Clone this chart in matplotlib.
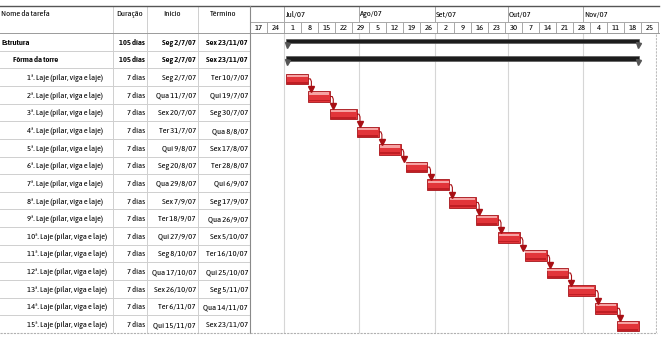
import matplotlib
matplotlib.use("Agg")
import matplotlib.pyplot as plt
import matplotlib.dates as mdates
import pandas as pd

plt.rcParams['font.family'] = ['Asap Condensed', 'Archivo Narrow',
                               'DejaVu Sans']

# ---------------- data ----------------
task_names = [
    "Estrutura", "Fôrma da torre",
    "1ª. Laje (pilar, viga e laje)", "2ª. Laje (pilar, viga e laje)",
    "3ª. Laje (pilar, viga e laje)", "4ª. Laje (pilar, viga e laje)",
    "5ª. Laje (pilar, viga e laje)", "6ª. Laje (pilar, viga e laje)",
    "7ª. Laje (pilar, viga e laje)", "8ª. Laje (pilar, viga e laje)",
    "9ª. Laje (pilar, viga e laje)", "10ª. Laje (pilar, viga e laje)",
    "11ª. Laje (pilar, viga e laje)", "12ª. Laje (pilar, viga e laje)",
    "13ª. Laje (pilar, viga e laje)", "14ª. Laje (pilar, viga e laje)",
    "15ª. Laje (pilar, viga e laje)",
]
outline_level = [0, 1, 2, 2, 2, 2, 2, 2, 2, 2, 2, 2, 2, 2, 2, 2, 2]
is_summary = [True, True] + [False] * 15
durations = ["105 dias", "105 dias"] + ["7 dias"] * 15
start_labels = [
    "Seg 2/7/07", "Seg 2/7/07", "Seg 2/7/07", "Qua 11/7/07", "Sex 20/7/07",
    "Ter 31/7/07", "Qui 9/8/07", "Seg 20/8/07", "Qua 29/8/07", "Sex 7/9/07",
    "Ter 18/9/07", "Qui 27/9/07", "Seg 8/10/07", "Qua 17/10/07",
    "Sex 26/10/07", "Ter 6/11/07", "Qui 15/11/07",
]
end_labels = [
    "Sex 23/11/07", "Sex 23/11/07", "Ter 10/7/07", "Qui 19/7/07", "Seg 30/7/07",
    "Qua 8/8/07", "Sex 17/8/07", "Ter 28/8/07", "Qui 6/9/07", "Seg 17/9/07",
    "Qua 26/9/07", "Sex 5/10/07", "Ter 16/10/07", "Qui 25/10/07",
    "Seg 5/11/07", "Qua 14/11/07", "Sex 23/11/07",
]
start_dates = pd.to_datetime([
    "2007-07-02", "2007-07-02", "2007-07-02", "2007-07-11", "2007-07-20",
    "2007-07-31", "2007-08-09", "2007-08-20", "2007-08-29", "2007-09-07",
    "2007-09-18", "2007-09-27", "2007-10-08", "2007-10-17", "2007-10-26",
    "2007-11-06", "2007-11-15",
])
end_dates = pd.to_datetime([
    "2007-11-23", "2007-11-23", "2007-07-10", "2007-07-19", "2007-07-30",
    "2007-08-08", "2007-08-17", "2007-08-28", "2007-09-06", "2007-09-17",
    "2007-09-26", "2007-10-05", "2007-10-16", "2007-10-25", "2007-11-05",
    "2007-11-14", "2007-11-23",
])
month_labels = ["Jul/07", "Ago/07", "Set/07", "Out/07", "Nov/07"]
month_starts = pd.to_datetime(["2007-07-01", "2007-08-01", "2007-09-01",
                               "2007-10-01", "2007-11-01"])
timeline_start = pd.Timestamp("2007-06-17")
timeline_end = pd.Timestamp("2007-12-02")
col_headers = ["Nome da tarefa", "Duração", "Início", "Término"]

# ---------------- layout ----------------
W, H = 662, 338
fig = plt.figure(figsize=(W / 100, H / 100), dpi=100)
fig.patch.set_facecolor("white")


def px_rect(l, t, r, b):
    return [l / W, 1 - b / H, (r - l) / W, (b - t) / H]


TOP, HDR_MID, HDR_BOT, BODY_BOT = 6, 21.5, 33, 333
TABLE_R, GANTT_R = 250, 657
col_sep = [113, 147, 198]
FS = 6.1
n = len(task_names)
rows = list(range(n))

# table body
axt = fig.add_axes(px_rect(0, HDR_BOT, TABLE_R, BODY_BOT))
axt.set_xlim(0, TABLE_R)
axt.set_ylim(n - 0.5, -0.5)
axt.axis("off")
for r in rows:
    axt.axhline(r + 0.5, color="#cfcfcf", lw=0.7)
for x in col_sep:
    axt.axvline(x, color="#cfcfcf", lw=0.7)
name_x = {0: 1, 1: 13, 2: 27}
for r, name, lvl, summ, dur, s, e in zip(rows, task_names, outline_level,
                                          is_summary, durations,
                                          start_labels, end_labels):
    fw = "semibold" if summ else "normal"
    axt.text(name_x[lvl], r + 0.05, name, fontsize=FS, fontweight=fw,
             va="center", ha="left")
    axt.text(145, r + 0.05, dur, fontsize=FS, fontweight=fw,
             va="center", ha="right")
    axt.text(196, r + 0.05, s, fontsize=FS, fontweight=fw,
             va="center", ha="right")
    axt.text(248, r + 0.05, e, fontsize=FS, fontweight=fw,
             va="center", ha="right")

# table header
axth = fig.add_axes(px_rect(0, TOP, TABLE_R, HDR_BOT))
axth.set_xlim(0, TABLE_R)
axth.set_ylim(HDR_BOT, TOP)
axth.axis("off")
axth.text(1, 14.5, col_headers[0], fontsize=FS, va="center", ha="left")
axth.text(130, 14.5, col_headers[1], fontsize=FS, va="center", ha="center")
axth.text(172, 14.5, col_headers[2], fontsize=FS, va="center", ha="center")
axth.text(223, 14.5, col_headers[3], fontsize=FS, va="center", ha="center")
for x in col_sep:
    axth.axvline(x, color="#cfcfcf", lw=0.7)

# gantt body
axg = fig.add_axes(px_rect(TABLE_R, HDR_BOT, GANTT_R, BODY_BOT))
x0 = mdates.date2num(timeline_start)
x1 = x0 + (GANTT_R - TABLE_R) / 2.431
axg.set_xlim(x0, x1)
axg.set_ylim(n - 0.5, -0.5)
axg.axis("off")
for m in month_starts:
    axg.axvline(mdates.date2num(m), color="#d6d6d6", lw=0.8)
axg.axvline(x1 - 0.6, color="#bdbdbd", lw=0.8, ls=(0, (2, 1)))

sx = mdates.date2num(start_dates)
ex = mdates.date2num(end_dates) + 1.0
for r, a, b, summ in zip(rows, sx, ex, is_summary):
    if summ:
        axg.barh(r - 0.05, b - a, left=a, height=0.26, color="#1c1c1c",
                 edgecolor="#5a5a5a", lw=0.5, zorder=3)
        axg.plot([a + 0.3, b - 0.3], [r + 0.17, r + 0.17], ls="none",
                 marker="v", ms=3.6, color="#555555", zorder=4)
    else:
        yc = r + 0.1
        axg.barh(yc, b - a, left=a, height=0.6, color="#e2353a",
                 edgecolor="#a5161b", lw=0.6, zorder=3)
        axg.barh(yc - 0.17, b - a - 0.6, left=a + 0.3, height=0.12,
                 color="#f6a3a3", lw=0, zorder=4)
        axg.barh(yc + 0.22, b - a - 0.4, left=a + 0.2, height=0.1,
                 color="#c01e24", lw=0, zorder=4)

# finish-to-start links
task_rows = rows[2:]
for i in range(len(task_rows) - 1):
    r0, r1 = task_rows[i], task_rows[i + 1]
    xe = ex[r0]
    xa = xe + 1.25
    y0 = r0 + 0.1
    y1 = r1 + 0.1 - 0.3
    axg.plot([xe, xa - 0.4, xa, xa], [y0, y0, y0 + 0.15, y1 - 0.22],
             color="#a80f14", lw=0.8, zorder=5, solid_capstyle="butt")
    axg.plot([xa], [y1 - 0.14], marker="v", ms=4, color="#a80f14",
             zorder=6, ls="none")

# timescale header
axh = fig.add_axes(px_rect(TABLE_R, TOP, GANTT_R + 2, HDR_BOT))
axh.set_xlim(x0, x0 + (GANTT_R + 2 - TABLE_R) / 2.431)
axh.set_ylim(HDR_BOT, TOP)
axh.axis("off")
axh.axhline(HDR_MID, color="#a8a8a8", lw=0.7)
for m, lab in zip(month_starts, month_labels):
    mx = mdates.date2num(m)
    axh.plot([mx, mx], [TOP, HDR_MID], color="#a8a8a8", lw=0.7)
    axh.text(mx + 0.4, 14.5, lab, fontsize=FS, va="center", ha="left")
weeks = pd.date_range(timeline_start, timeline_end, freq="7D")
for w in weeks:
    wx = mdates.date2num(w)
    axh.plot([wx, wx], [HDR_MID, HDR_BOT], color="#a8a8a8", lw=0.7)
    if w < timeline_end:
        axh.text(wx + 3.5, 27.6, str(w.day), fontsize=FS, va="center",
                 ha="center")
axh.axvline(x1 + 0.8, color="#a8a8a8", lw=0.7)

# frame lines in figure pixels
over = fig.add_axes([0, 0, 1, 1])
over.set_xlim(0, W)
over.set_ylim(H, 0)
over.axis("off")
over.patch.set_alpha(0)
over.plot([0, GANTT_R + 2], [TOP, TOP], color="#555555", lw=1.0)
over.plot([0, GANTT_R + 2], [HDR_BOT, HDR_BOT], color="#9a9a9a", lw=0.7)
over.plot([TABLE_R, TABLE_R], [TOP, BODY_BOT], color="#8a8a8a", lw=0.8)
over.plot([0, GANTT_R], [BODY_BOT, BODY_BOT], color="#b0b0b0", lw=0.8,
          ls=(0, (2, 1)))

fig.savefig("out.png", dpi=100, facecolor="white")
